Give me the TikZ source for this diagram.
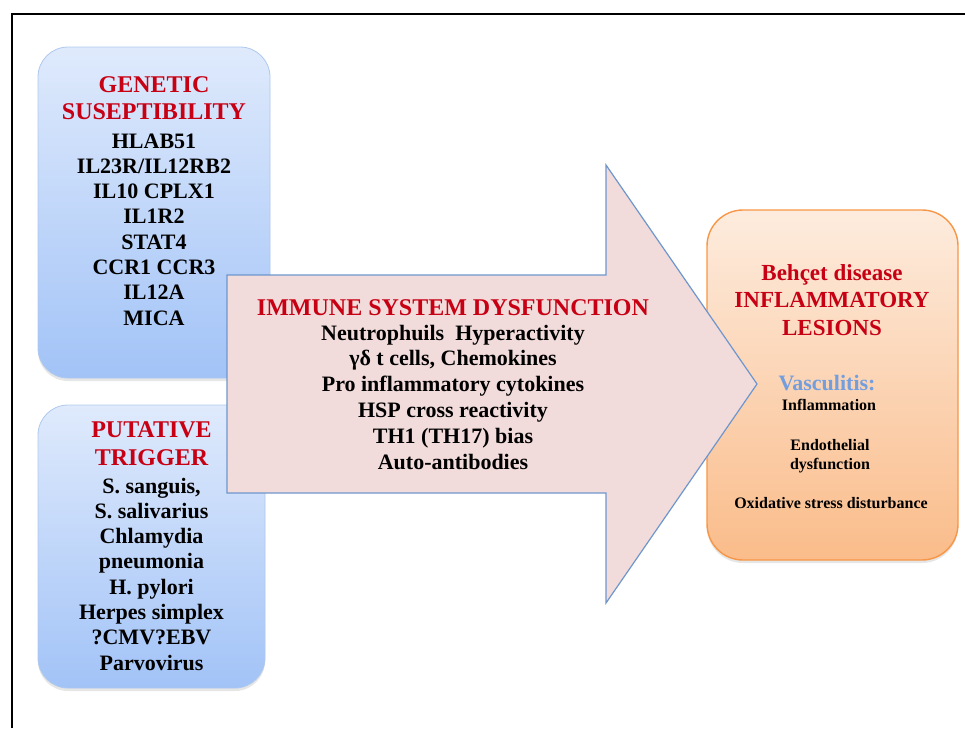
\documentclass[tikz,border=0pt]{standalone}
\usepackage{fontspec}
\setmainfont{Liberation Serif}
\usetikzlibrary{positioning,shadows}

\definecolor{titlered}{RGB}{200,0,20}
\definecolor{boxtop}{RGB}{223,234,252}
\definecolor{boxbot}{RGB}{162,195,247}
\definecolor{boxline}{RGB}{175,200,238}
\definecolor{arrowfill}{RGB}{242,220,219}
\definecolor{arrowline}{RGB}{110,150,205}
\definecolor{lesiontop}{RGB}{253,236,222}
\definecolor{lesionbot}{RGB}{250,188,138}
\definecolor{lesionline}{RGB}{247,150,70}
\definecolor{vascblue}{RGB}{115,158,222}

\tikzset{
  bluebox/.style={rounded corners=30pt, top color=boxtop, bottom color=boxbot,
    draw=boxline, line width=0.8pt,
    drop shadow={shadow xshift=0pt, shadow yshift=-3pt, opacity=0.2}},
  lesionbox/.style={rounded corners=36pt, top color=lesiontop, bottom color=lesionbot,
    draw=lesionline, line width=1.4pt,
    drop shadow={shadow xshift=0pt, shadow yshift=-3pt, opacity=0.2}},
  bigarrow/.style={fill=arrowfill, draw=arrowline, line width=1.2pt, line join=miter},
  redtitle/.style={anchor=base, inner sep=0pt, text=titlered, font=\fontsize{24}{29}\selectfont\bfseries},
  item/.style={anchor=base, inner sep=0pt, font=\fontsize{22}{26}\selectfont\bfseries},
  small/.style={anchor=base, inner sep=0pt, font=\fontsize{16}{20}\selectfont\bfseries}
}

\begin{document}
\begin{tikzpicture}[x=1pt,y=-1pt]
\useasboundingbox (0,0) rectangle (965,728);

% Page frame
\draw[line width=1.5pt] (12,728) -- (12,14) -- (965,14);

% Genetic susceptibility
\node[bluebox, minimum width=232pt, minimum height=331pt] (genetic) at (154,212.5) {};
\node[redtitle] (gentitle) at (154,92) {GENETIC};
\node[redtitle] (gentitleb) at (154,119) {SUSEPTIBILITY};
\foreach \gene [count=\i from 0] in {HLAB51, IL23R/IL12RB2, IL10 CPLX1, IL1R2, STAT4, CCR1 CCR3, IL12A, MICA}
  \node[item] (gene\i) at (154,148+25.3*\i) {\gene};

% Putative trigger
\node[bluebox, minimum width=227pt, minimum height=283pt] (trigger) at (151.5,546.5) {};
\node[redtitle] (trigtitle) at (151.5,437) {PUTATIVE};
\node[redtitle] (trigtitleb) at (151.5,465) {TRIGGER};
\foreach \agent [count=\i from 0] in {{S. sanguis,}, S. salivarius, Chlamydia, pneumonia, H. pylori, Herpes simplex, ?CMV?EBV, Parvovirus}
  \node[item] (agent\i) at (151.5,493+25.3*\i) {\agent};

% Inflammatory lesions
\node[lesionbox, minimum width=251pt, minimum height=350pt] (lesion) at (832.5,385) {};
\node[redtitle, font=\fontsize{23}{28}\selectfont\bfseries] (lestitle) at (832,280) {Behçet disease};
\node[redtitle, font=\fontsize{23}{28}\selectfont\bfseries] (lestitleb) at (832,307) {INFLAMMATORY};
\node[redtitle, font=\fontsize{23}{28}\selectfont\bfseries] (lestitlec) at (832,335) {LESIONS};
\node[item, text=vascblue] (vasc) at (827,390) {Vasculitis:};
\node[small] (infl) at (829,410) {Inflammation};
\node[small] (endo) at (830,450) {Endothelial};
\node[small] (dysf) at (830,469) {dysfunction};
\node[small] (oxid) at (831,508) {Oxidative stress disturbance};

% Immune system dysfunction arrow
\filldraw[bigarrow] (227,275) -- (606,275) -- (606,165) -- (757,384)
  -- (606,603) -- (606,493) -- (227,493) -- cycle;
\node[redtitle] (immune) at (453,315) {IMMUNE SYSTEM DYSFUNCTION};
\foreach \cell [count=\i from 0] in {Neutrophuils\ \ Hyperactivity, {γδ t cells, Chemokines}, Pro inflammatory cytokines, HSP cross reactivity, TH1 (TH17) bias, Auto-antibodies}
  \node[item] (cell\i) at (453,340+25.8*\i) {\cell};

\end{tikzpicture}
\end{document}
